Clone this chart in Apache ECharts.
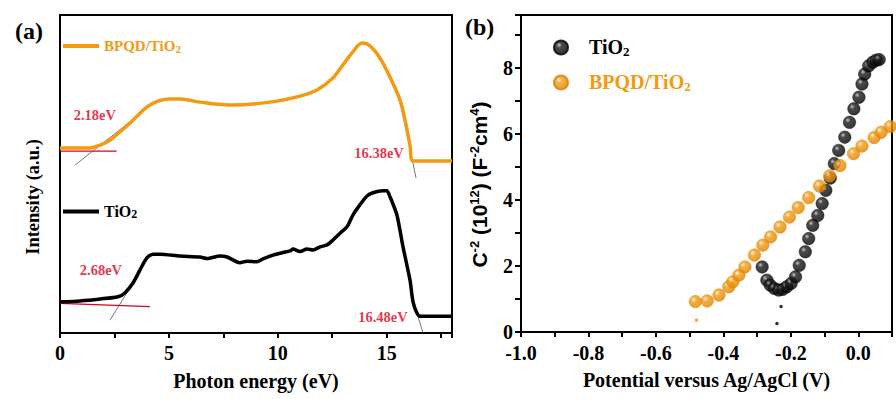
<!DOCTYPE html>
<html><head><meta charset="utf-8">
<script src="https://cdn.jsdelivr.net/npm/echarts@6/dist/echarts.min.js"></script>
<style>html,body{margin:0;padding:0;background:#fff}#c{width:896px;height:399px}</style>
</head><body><div id="c"></div>
<script>
// ---------- Panel (a): UPS spectra ----------
const upsEnergyBPQD = [0,1.38,1.84,2.3,3.21,4.13,5.05,5.51,6.43,7.94,9.64,11.02,11.8,12.53,12.99,13.45,13.87,14.23,14.69,15.15,15.61,15.84,16.07,16.21,17.0,18];
const upsIntensityBPQD = [58.2,58.2,59.1,60.7,66.0,71.7,73.6,73.6,72.6,71.7,72.6,74.5,76.4,80.2,84.3,88.4,91.2,90.3,86.5,80.5,73.3,67.0,59.1,54.1,54.1,54.1];
const upsEnergyTiO2 = [0,0.92,1.84,2.66,2.98,3.35,3.67,3.99,4.27,4.59,5.51,6.43,6.75,7.35,7.67,8.26,8.59,9.04,9.32,9.78,10.24,10.56,10.7,11.02,11.34,11.62,11.94,12.26,12.53,12.86,13.18,13.45,13.77,14.1,14.37,14.83,15.01,15.15,15.47,15.75,16.07,16.21,16.39,16.53,17.2,18];
const upsIntensityTiO2 = [9.8,10.1,10.7,11.4,12.6,15.7,19.8,23.6,24.8,24.8,24.2,23.9,23.4,24.2,23.9,22.1,22.6,22.4,23.3,24.5,25.3,25.8,26.4,25.6,26.4,26.1,27.1,27.7,29.2,31.4,33.4,37.1,40.3,43.1,44.1,44.7,44.7,42.9,37.1,27.1,16.7,9.8,6.3,5.3,5.3,5.3];
const upsXTicks = [0,5,10,15];
// edge-fit lines (data space): [x1,y1,x2,y2]
const fitBaseBPQD = [0,57.2,2.6,57.2];
const fitEdgeBPQD = [0.69,52.8,3.21,66.4];
const fitCutoffBPQD = [15.61,73.3,16.35,48.7];
const fitBaseTiO2 = [0,9.3,4.13,8.3];
const fitEdgeTiO2 = [2.3,4.1,3.06,12.5];
const fitCutoffTiO2 = [16.2,10.4,16.67,0];
const edgeLabels = ['2.18eV','16.38eV','2.68eV','16.48eV'];
const edgeLabelX = [1.6,14.65,1.88,14.83];
const edgeLabelY = [68.6,56.6,19.8,5.0];

// ---------- Panel (b): Mott-Schottky ----------
const msPotentialTiO2 = [-0.285,-0.271,-0.261,-0.249,-0.236,-0.224,-0.212,-0.199,-0.186,-0.175,-0.157,-0.147,-0.135,-0.120,-0.107,-0.096,-0.083,-0.071,-0.058,-0.040,-0.026,-0.013,0.002,0.011,0.019,0.031,0.043,0.053,0.062];
const msValueTiO2 = [1.97,1.57,1.42,1.32,1.27,1.29,1.37,1.47,1.67,2.02,2.43,2.83,3.23,3.53,3.89,4.29,4.66,5.10,5.50,5.90,6.35,6.76,7.11,7.51,7.81,8.06,8.17,8.23,8.25];
const msPotentialBPQD = [-0.483,-0.448,-0.413,-0.384,-0.372,-0.354,-0.336,-0.308,-0.283,-0.260,-0.232,-0.204,-0.178,-0.147,-0.115,-0.085,-0.054,-0.014,0.011,0.047,0.068,0.095];
const msValueBPQD = [0.92,0.94,1.12,1.37,1.52,1.72,1.97,2.33,2.63,2.88,3.18,3.48,3.77,4.07,4.42,4.73,5.04,5.40,5.63,5.89,6.05,6.22];
const fbDotsTiO2X = [-0.229,-0.241];
const fbDotsTiO2Y = [0.77,0.26];
const fbDotsBPQDX = [-0.48];
const fbDotsBPQDY = [0.36];
const msXTicks = [-1.0,-0.8,-0.6,-0.4,-0.2,0.0];
const msYTicks = [0,2,4,6,8];

// ---------- styling ----------
const serif = '"Liberation Serif","Times New Roman",serif';
const sans = '"Liberation Sans",Arial,sans-serif';
const ORANGE = '#F39A12';
const RED = '#E0001A';
const zip = (a,b) => a.map((v,i)=>[v,b[i]]);
const seg = s => [[s[0],s[1]],[s[2],s[3]]];
const sphere = (stops) => ({type:'radial', x:0.36, y:0.33, r:0.72,
  colorStops:stops.map(s=>({offset:s[0], color:s[1]}))});
const blackSphere = sphere([[0,'#b8b8b8'],[0.28,'#1c1c1c'],[1,'#000']]);
const orangeSphere = sphere([[0,'#fff2d6'],[0.3,'#F49A10'],[1,'#DB8200']]);

const axisLine = {show:true, onZero:false, lineStyle:{color:'#000', width:2}};
const tick = {show:true, inside:false, length:5, lineStyle:{color:'#000', width:2}};
const tickLabel = {fontFamily:serif, fontWeight:'bold', fontSize:20, color:'#000'};
const nameStyle = {fontFamily:serif, fontWeight:'bold', fontSize:20, color:'#000'};

function fitLine(s, color, w){
  return {type:'line', xAxisIndex:0, yAxisIndex:0, data:seg(s), symbol:'none', silent:true,
    lineStyle:{color:color, width:w}, z:1};
}

const option = {
  backgroundColor:'#fff',
  animation:false,
  title:[
    {text:'(a)', left:10, top:14, textStyle:{fontFamily:serif, fontWeight:'bold', fontSize:24, color:'#000'}},
    {text:'(b)', left:460, top:10, textStyle:{fontFamily:serif, fontWeight:'bold', fontSize:24, color:'#000'}}
  ],
  grid:[
    {left:60, top:15, width:392, height:318, show:true, borderColor:'#000', borderWidth:2, backgroundColor:'transparent'},
    {left:521, top:15, width:371, height:317, show:true, borderColor:'#000', borderWidth:2, backgroundColor:'transparent'}
  ],
  xAxis:[
    {gridIndex:0, type:'value', min:0, max:18, interval:2.5,
     name:'Photon energy (eV)', nameLocation:'middle', nameGap:38, nameTextStyle:nameStyle,
     axisLine:axisLine, axisTick:tick, splitLine:{show:false},
     axisLabel:Object.assign({margin:10, formatter:v => upsXTicks.includes(v) ? String(v) : ''}, tickLabel)},
    {gridIndex:1, type:'value', min:-1.0, max:0.1, interval:0.1,
     name:'Potential versus Ag/AgCl (V)', nameLocation:'middle', nameGap:38, nameTextStyle:nameStyle,
     axisLine:axisLine, axisTick:tick, splitLine:{show:false},
     axisLabel:Object.assign({margin:11, formatter:v => {
        const r = Math.round(v*10)/10;
        return msXTicks.some(t => Math.abs(t-r) < 1e-9) ? r.toFixed(1) : '';
     }}, tickLabel)}
  ],
  yAxis:[
    {gridIndex:0, type:'value', min:0, max:100,
     name:'Intensity (a.u.)', nameLocation:'middle', nameRotate:90, nameGap:18,
     nameTextStyle:Object.assign({}, nameStyle, {fontSize:18.5, padding:[0,46,0,0]}),
     axisLine:axisLine, axisTick:{show:false}, axisLabel:{show:false}, splitLine:{show:false}},
    {gridIndex:1, type:'value', min:0, max:9.6, interval:1,
     name:'{m|C}{s|-2}{m| (10}{s|12}{m|) (F}{s|-2}{m|cm}{s|4}{m|)}',
     nameLocation:'middle', nameRotate:90, nameGap:31,
     nameTextStyle:{padding:[0,22,0,0], rich:{
       m:{fontFamily:sans, fontWeight:'bold', fontSize:21, color:'#000', verticalAlign:'bottom', lineHeight:22},
       s:{fontFamily:sans, fontWeight:'bold', fontSize:13, color:'#000', verticalAlign:'top', lineHeight:13, padding:[0,0,13,0]}
     }},
     axisLine:axisLine, axisTick:Object.assign({}, tick, {length:6}), splitLine:{show:false},
     axisLabel:Object.assign({margin:8, formatter:v => msYTicks.includes(v) ? String(v) : ''}, tickLabel)}
  ],
  legend:[
    {data:['BPQD/TiO2 (a)'], left:58, top:28, selectedMode:false, icon:'rect', itemWidth:36, itemHeight:4,
     formatter:()=>'{o|BPQD/TiO}{os|2}',
     textStyle:{rich:{
       o:{fontFamily:serif, fontWeight:'bold', fontSize:15, color:ORANGE, verticalAlign:'top', lineHeight:16},
       os:{fontFamily:serif, fontWeight:'bold', fontSize:11, color:ORANGE, verticalAlign:'bottom', lineHeight:11, padding:[10,0,0,0]}
     }}},
    {data:['TiO2 (a)'], left:58, top:192, selectedMode:false, icon:'rect', itemWidth:36, itemHeight:4,
     formatter:()=>'{k|TiO}{ks|2}',
     textStyle:{rich:{
       k:{fontFamily:serif, fontWeight:'bold', fontSize:16, color:'#000', verticalAlign:'top', lineHeight:17},
       ks:{fontFamily:serif, fontWeight:'bold', fontSize:12, color:'#000', verticalAlign:'bottom', lineHeight:12, padding:[11,0,0,0]}
     }}},
    {data:['TiO2 (b)','BPQD/TiO2 (b)'], orient:'vertical', left:548, top:26, selectedMode:false,
     itemWidth:14, itemHeight:14, itemGap:8,
     formatter:n => n === 'TiO2 (b)' ? '{g|}{k|TiO}{ks|2}' : '{g|}{o|BPQD/TiO}{os|2}',
     textStyle:{rich:{
       g:{width:16},
       k:{fontFamily:serif, fontWeight:'bold', fontSize:20, color:'#000', verticalAlign:'top', lineHeight:21},
       ks:{fontFamily:serif, fontWeight:'bold', fontSize:13, color:'#000', verticalAlign:'bottom', lineHeight:13, padding:[14,0,0,0]},
       o:{fontFamily:serif, fontWeight:'bold', fontSize:20, color:ORANGE, verticalAlign:'top', lineHeight:21},
       os:{fontFamily:serif, fontWeight:'bold', fontSize:13, color:ORANGE, verticalAlign:'bottom', lineHeight:13, padding:[14,0,0,0]}
     }}}
  ],
  series:[
    fitLine(fitBaseBPQD, RED, 1.2),
    fitLine(fitEdgeBPQD, '#555', 0.8),
    fitLine(fitCutoffBPQD, '#555', 0.8),
    fitLine(fitBaseTiO2, RED, 1.2),
    fitLine(fitEdgeTiO2, '#555', 0.8),
    fitLine(fitCutoffTiO2, '#555', 0.8),
    {name:'BPQD/TiO2 (a)', type:'line', xAxisIndex:0, yAxisIndex:0, data:zip(upsEnergyBPQD, upsIntensityBPQD),
     smooth:0.35, symbol:'none', lineStyle:{color:ORANGE, width:3.5}, itemStyle:{color:ORANGE}, z:3},
    {name:'TiO2 (a)', type:'line', xAxisIndex:0, yAxisIndex:0, data:zip(upsEnergyTiO2, upsIntensityTiO2),
     smooth:0.25, symbol:'none', lineStyle:{color:'#000', width:3.5}, itemStyle:{color:'#000'}, z:3},
    {type:'scatter', xAxisIndex:0, yAxisIndex:0, silent:true, symbolSize:0,
     data:edgeLabels.map((t,i)=>({name:t, value:[edgeLabelX[i], edgeLabelY[i]]})),
     label:{show:true, position:'inside', formatter:p=>p.name, fontFamily:serif, fontWeight:'bold', fontSize:14.5, color:RED}, z:5},
    {name:'TiO2 (b)', type:'scatter', xAxisIndex:1, yAxisIndex:1, data:zip(msPotentialTiO2, msValueTiO2),
     symbolSize:12.5, itemStyle:{color:blackSphere, borderColor:'#000', borderWidth:0.5}, z:3},
    {name:'BPQD/TiO2 (b)', type:'scatter', xAxisIndex:1, yAxisIndex:1, data:zip(msPotentialBPQD, msValueBPQD),
     symbolSize:12.5, itemStyle:{color:orangeSphere, borderColor:'#D98000', borderWidth:0.5}, z:4},
    {type:'scatter', xAxisIndex:1, yAxisIndex:1, silent:true, data:zip(fbDotsTiO2X, fbDotsTiO2Y),
     symbolSize:3.5, itemStyle:{color:'#000'}},
    {type:'scatter', xAxisIndex:1, yAxisIndex:1, silent:true, data:zip(fbDotsBPQDX, fbDotsBPQDY),
     symbolSize:3.5, itemStyle:{color:ORANGE}}
  ]
};
const chart = echarts.init(document.getElementById('c'), null, {renderer:'svg'});
chart.setOption(option);
</script>
</body></html>
